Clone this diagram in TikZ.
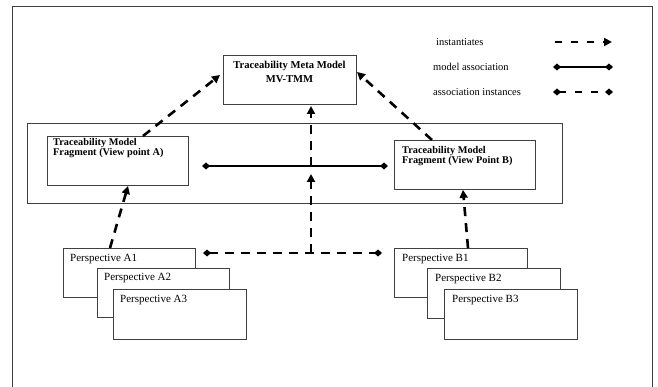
\documentclass[tikz,border=0pt]{standalone}
\usepackage{fontspec}
\setmainfont{Liberation Serif}
\usetikzlibrary{arrows.meta}
\begin{document}
\begin{tikzpicture}[x=1pt,y=-1pt,
  frame/.style={draw=black!75, line width=0.9pt},
  box/.style={draw=black!75, line width=0.9pt, fill=white, inner sep=0pt, anchor=north west},
  mttl/.style={font=\bfseries\fontsize{10.6}{11}\selectfont, inner sep=0pt, anchor=center},
  ttl/.style={font=\bfseries\fontsize{10.3}{11}\selectfont, inner sep=0pt, anchor=west},
  ptxt/.style={font=\fontsize{11}{12}\selectfont, inner sep=0pt, anchor=west},
  ltxt/.style={font=\fontsize{10.5}{11}\selectfont, inner sep=0pt, anchor=west},
  inst/.style={line width=2.6pt, dash pattern=on 9pt off 7pt, -{Triangle[length=8pt,width=8pt]}},
  massoc/.style={line width=2pt, {Diamond[length=8pt,width=7pt]}-{Diamond[length=8pt,width=7pt]}},
  ainst/.style={line width=2.6pt, dash pattern=on 9pt off 7pt, {Diamond[length=8pt,width=7pt]}-{Diamond[length=8pt,width=7pt]}}
]
\useasboundingbox (0,0) rectangle (658,387);
\clip (0,0) rectangle (658,387);
\draw[frame] (12,400) -- (12,6) -- (652,6) -- (652,400);

% meta model
\node[box, minimum width=133pt, minimum height=49pt] (meta) at (223,55) {};
\node[mttl] (metat1) at (289.5,66) {Traceability Meta Model};
\node[mttl] (metat2) at (289.5,79) {MV-TMM};

% middle container
\node[box, minimum width=535pt, minimum height=80pt] (mid) at (27,123) {};

% fragments
\node[box, minimum width=141pt, minimum height=49pt] (fragA) at (47,136) {};
\node[ttl] (fragAt1) at (53,143) {Traceability Model};
\node[ttl] (fragAt2) at (53,153) {Fragment (View point A)};
\node[box, minimum width=141pt, minimum height=49pt] (fragB) at (394,140) {};
\node[ttl] (fragBt1) at (402,151) {Traceability Model};
\node[ttl] (fragBt2) at (402,161) {Fragment (View Point B)};

% perspectives A
\node[box, minimum width=132pt, minimum height=49pt] (A1) at (63,248) {};
\node[ptxt] (A1t) at (70,259) {Perspective A1};
\node[box, minimum width=132pt, minimum height=49pt] (A2) at (97,268) {};
\node[ptxt] (A2t) at (104,278) {Perspective A2};
\node[box, minimum width=133pt, minimum height=50pt] (A3) at (113,289) {};
\node[ptxt] (A3t) at (120,300) {Perspective A3};

% perspectives B
\node[box, minimum width=133pt, minimum height=49pt] (B1) at (394,248) {};
\node[ptxt] (B1t) at (402,259) {Perspective B1};
\node[box, minimum width=133pt, minimum height=50pt] (B2) at (427,268) {};
\node[ptxt] (B2t) at (435,279) {Perspective B2};
\node[box, minimum width=133pt, minimum height=50pt] (B3) at (444,289) {};
\node[ptxt] (B3t) at (452,300) {Perspective B3};

% free-end coordinates
\coordinate (metaL) at (220,75);
\coordinate (metaR) at (357,72);
\coordinate (metaB) at (311,106);
\coordinate (solidL) at (202,166);
\coordinate (solidR) at (388,166);
\coordinate (solidV) at (311,166);
\coordinate (vTip) at (311,174);
\coordinate (dashL) at (203,253);
\coordinate (dashR) at (382,253);
\coordinate (dashV) at (311,253);

% instantiates
\draw[inst] ([xshift=96pt]fragA.north west) -- (metaL);
\draw[inst] ([xshift=38pt]fragB.north west) -- (metaR);
\draw[inst] ([xshift=47pt]A1.north west) -- ([xshift=81pt]fragA.south west);
\draw[inst] ([xshift=74pt]B1.north west) -- ([xshift=69pt]fragB.south west);
\draw[inst] (solidV) -- (metaB);
\draw[inst] (dashV) -- (vTip);

% model association
\draw[massoc] (solidL) -- (solidR);
% association instances
\draw[ainst] (dashL) -- (dashR);

% legend
\node[ltxt] (l1) at (436,42) {instantiates};
\node[ltxt] (l2) at (433,67) {model association};
\node[ltxt] (l3) at (433,92) {association instances};
\coordinate (l1a) at (555,42); \coordinate (l1b) at (612,42);
\coordinate (l2a) at (553,67); \coordinate (l2b) at (613,67);
\coordinate (l3a) at (553,92); \coordinate (l3b) at (613,92);
\draw[line width=2.6pt, dash pattern=on 7pt off 9pt, -{Triangle[length=8pt,width=8pt]}] (l1a) -- (l1b);
\draw[massoc] (l2a) -- (l2b);
\draw[ainst, dash pattern=on 7pt off 9pt] (l3a) -- (l3b);
\end{tikzpicture}
\end{document}
